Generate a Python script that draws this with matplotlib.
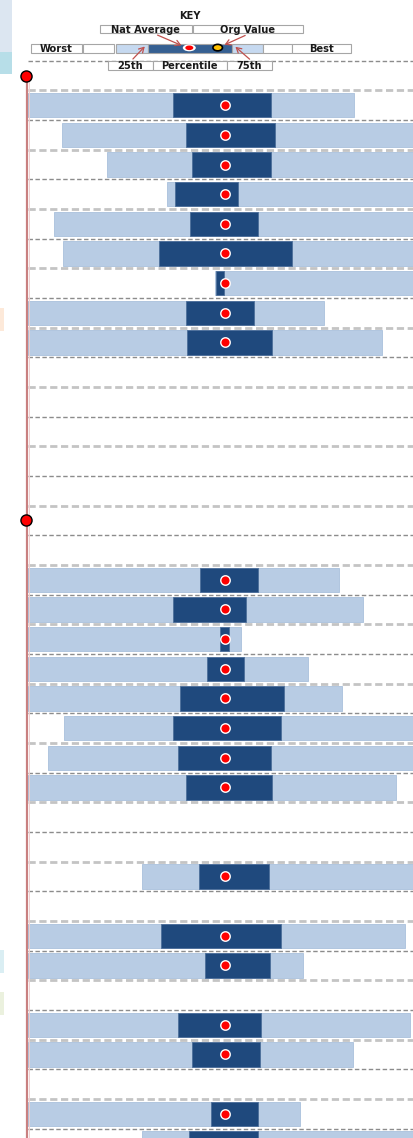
import numpy as np
import matplotlib
matplotlib.use("Agg")
import matplotlib.pyplot as plt
from matplotlib.patches import Rectangle, Ellipse

plt.rcParams['font.family'] = ['DejaVu Sans']

# ---- data: scores relative to the national average (nat avg = 0) ----
n_rows = 37
section_rows = [0, 15]
bar_rows = [1, 2, 3, 4, 5, 6, 7, 8, 9,
            17, 18, 19, 20, 21, 22, 23, 24,
            27, 29, 30, 32, 33, 35, 36]
worst = [-100, -82.6, -60.0, -29.3, -86.8, -82.1, -4.9, -100, -100,
         -100, -100, -100, -100, -100, -81.5, -89.8, -100,
         -42.2, -100, -100, -100, -100, -100, -42.2]
pct25 = [-26.1, -19.8, -16.6, -25.1, -17.8, -33.4, -4.3, -19.8, -19.2,
         -12.6, -26.1, -2.5, -8.8, -22.9, -26.1, -23.6, -19.8,
         -13.1, -32.4, -9.9, -23.6, -16.8, -6.8, -18.3]
pct75 = [23.5, 25.7, 23.5, 6.9, 16.8, 34.1, -0.5, 14.7, 24.2,
         16.8, 11.0, 2.2, 10.0, 30.3, 28.8, 23.5, 24.2,
         22.5, 28.8, 23.0, 18.3, 17.8, 16.8, 16.8]
best = [65.7, 100, 100, 100, 100, 100, 100, 50.6, 80.0,
        58.1, 70.5, 8.3, 42.3, 59.6, 100, 100, 87.2,
        100, 91.5, 39.8, 94.2, 65.4, 38.3, 100]
nat_avg = [0] * len(bar_rows)

axis_min, axis_max = -100, 95.7

LIGHT = '#b8cce4'
DARK = '#1f497d'

W, H = 413, 1138
fig = plt.figure(figsize=(W / 100, H / 100), dpi=100)

# main chart axes (full figure, data units)
ax = fig.add_axes([0, 0, 1, 1])
ax.set_xlim(-114.2, axis_max)
ax.set_ylim(35.82, -2.546)
ax.axis('off')

# row separators, alternating dark thin / light thick dashes
for j in range(-1, n_rows - 1):
    yb = j + 0.5
    if (j + 1) % 2 == 0:
        ax.hlines(yb, axis_min, axis_max, colors='#8c8c8c', linewidth=1.0,
                  linestyles=(0, (3.2, 1.8)), zorder=1)
    else:
        ax.hlines(yb, axis_min, axis_max, colors='#c4c4c4', linewidth=2.0,
                  linestyles=(0, (2.6, 1.3)), zorder=1)

bh = 0.82
ax.barh(bar_rows, np.array(best) - np.array(worst), left=worst, height=bh,
        color=LIGHT, edgecolor='#a9c0dc', linewidth=0.6, zorder=2)
ax.barh(bar_rows, np.array(pct75) - np.array(pct25), left=pct25, height=bh,
        color=DARK, edgecolor='#4d6f9a', linewidth=0.6, zorder=3)
ax.plot(nat_avg, bar_rows, 'o', color='#ff0000', markersize=6.8,
        markeredgecolor='white', markeredgewidth=1.0, linestyle='none', zorder=4)

# section spine with red markers
spine_x = axis_min - 0.5
ax.plot([spine_x, spine_x], [section_rows[0], 40], color='#c98080',
        linewidth=1.6, zorder=2, clip_on=True)
ax.plot([spine_x + 0.9, spine_x + 0.9], [section_rows[0], 40], color='#efd0d0',
        linewidth=0.7, zorder=2)
ax.plot([spine_x - 0.3] * len(section_rows), section_rows, 'o', color='#ff0000',
        markersize=8, markeredgecolor='black', markeredgewidth=1.0, zorder=5)

# ---- key (pixel coordinates overlay) ----
kx = fig.add_axes([0, 0, 1, 1])
kx.set_xlim(0, W)
kx.set_ylim(H, 0)
kx.axis('off')

# stray cell fills at the left edge
for (x0, y0, w, h, c) in [(0, 0, 12, 51.5, '#dce6f1'), (0, 51.5, 12, 22, '#b7dee8'),
                          (0, 308, 4, 22.5, '#fde9d9'), (0, 950, 4, 22.7, '#daeef3'),
                          (0, 992, 4, 22.7, '#ebf1de')]:
    kx.add_patch(Rectangle((x0, y0), w, h, facecolor=c, edgecolor='none'))

def box(x0, x1, y0, y1, fc='white', text=None):
    kx.add_patch(Rectangle((x0, y0), x1 - x0, y1 - y0, facecolor=fc,
                           edgecolor='#a6a6a6', linewidth=0.8, zorder=3))
    if text:
        kx.text((x0 + x1) / 2, (y0 + y1) / 2 + 0.4, text, ha='center', va='center',
                fontsize=7.1, fontweight='bold', color='#1a1a1a', zorder=4)

kx.text(190, 15.5, 'KEY', ha='center', va='center', fontsize=7.1,
        fontweight='bold', color='#1a1a1a')
box(100, 191.7, 25, 33.3, text='Nat Average')
box(193.3, 302.7, 25, 33.3, text='Org Value')
box(31, 81.7, 44, 52.7, text='Worst')
box(82.7, 114.3, 44, 52.7)
box(115.7, 147.7, 44, 52.7, fc='#c6d9f0')
box(147.7, 231.7, 44, 52.7, fc='#366092')
box(231.7, 263.3, 44, 52.7, fc='#c6d9f0')
box(263.3, 291.7, 44, 52.7)
box(291.7, 351, 44, 52.7, text='Best')
box(108.3, 152.7, 61, 70, text='25th')
box(152.7, 226.7, 61, 70, text='Percentile')
box(226.7, 271.7, 61, 70, text='75th')

kx.add_patch(Ellipse((189.3, 47.8), 13, 7, facecolor='white', edgecolor='none', zorder=5))
kx.add_patch(Ellipse((189.3, 47.8), 8, 4.6, facecolor='#ff0000', edgecolor='none', zorder=6))
kx.add_patch(Ellipse((217.7, 47.6), 9.5, 6.5, facecolor='#ffc000', edgecolor='black',
                     linewidth=1.2, zorder=6))

arrow_kw = dict(arrowstyle='->,head_length=0.35,head_width=0.2', color='#c0504d', lw=0.9)
for start, end in [((155, 34), (184, 46.5)), ((247.7, 34.3), (222, 46)),
                   ((131, 61), (146.7, 44.5)), ((251.7, 61), (233.3, 45))]:
    kx.annotate('', xy=end, xytext=start, arrowprops=arrow_kw, zorder=7)

fig.savefig('out.png', dpi=100)
